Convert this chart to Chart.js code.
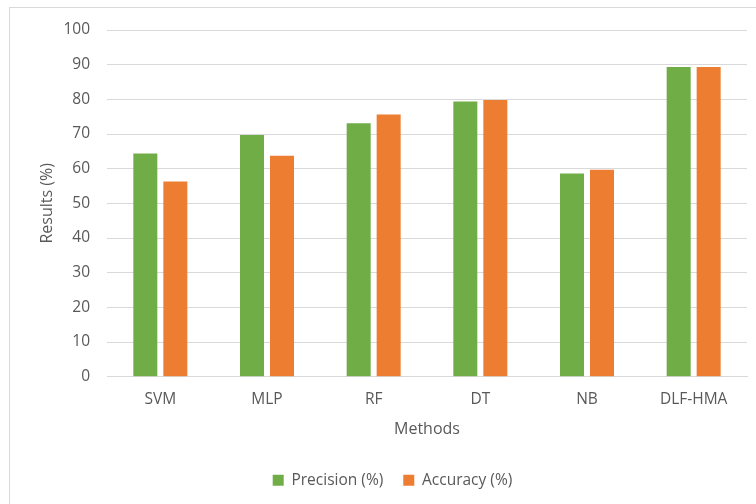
<!DOCTYPE html>
<html>
<head>
<meta charset="utf-8">
<script src="https://cdn.jsdelivr.net/npm/chart.js@4"></script>
<style>
  html, body { margin: 0; padding: 0; background: #ffffff; }
  #wrap { position: relative; width: 756px; height: 504px; }
  #frame { position: absolute; left: 9px; top: 7px; right: 0; bottom: 0;
           border-top: 1px solid #d9d9d9; border-left: 1px solid #d9d9d9; }
  canvas { position: absolute; left: 0; top: 0; }
</style>
</head>
<body>
<div id="wrap">
  <div id="frame"></div>
  <canvas id="c" width="756" height="504"></canvas>
</div>
<script>
// Methods compared and their scores (%)
const methods = ['SVM', 'MLP', 'RF', 'DT', 'NB', 'DLF-HMA'];
const precision = [64.4, 69.7, 73.1, 79.4, 58.6, 89.3];
const accuracy = [56.3, 63.7, 75.6, 79.8, 59.7, 89.3];
const yTicks = [0, 10, 20, 30, 40, 50, 60, 70, 80, 90, 100];

const FONT = "'Open Sans', 'Liberation Sans', sans-serif";
const TEXT = '#595959';

new Chart(document.getElementById('c'), {
  type: 'bar',
  data: {
    labels: methods,
    datasets: [
      { label: 'Precision (%)', data: precision, backgroundColor: '#70ad47' },
      { label: 'Accuracy (%)', data: accuracy, backgroundColor: '#ed7d31' }
    ]
  },
  options: {
    responsive: false,
    animation: false,
    devicePixelRatio: 1,
    layout: { padding: { left: 38, right: 9, top: 30, bottom: 6 } },
    datasets: { bar: { categoryPercentage: 0.5625, barPercentage: 0.8 } },
    plugins: {
      tooltip: { enabled: false },
      legend: {
        position: 'bottom',
        labels: {
          font: { family: FONT, size: 15.5 },
          color: TEXT,
          boxWidth: 11,
          boxHeight: 11,
          padding: 20
        }
      }
    },
    scales: {
      x: {
        grid: { display: false },
        border: { color: '#d9d9d9' },
        ticks: { font: { family: FONT, size: 15.5 }, color: TEXT, padding: 6 },
        title: { display: true, text: 'Methods', font: { family: FONT, size: 16 }, color: TEXT, padding: { top: 5, bottom: 13 } }
      },
      y: {
        min: 0, max: 100,
        afterBuildTicks: s => { s.ticks = yTicks.map(v => ({ value: v })); },
        grid: { color: '#d9d9d9', drawTicks: false },
        border: { display: false },
        ticks: { font: { family: FONT, size: 15.5 }, color: TEXT, padding: 17 },
        title: { display: true, text: 'Results (%)', font: { family: FONT, size: 16 }, color: TEXT, padding: { top: 0, bottom: 10 } },
        afterFit: s => { s.width = 69; }
      }
    }
  }
});
</script>
</body>
</html>
